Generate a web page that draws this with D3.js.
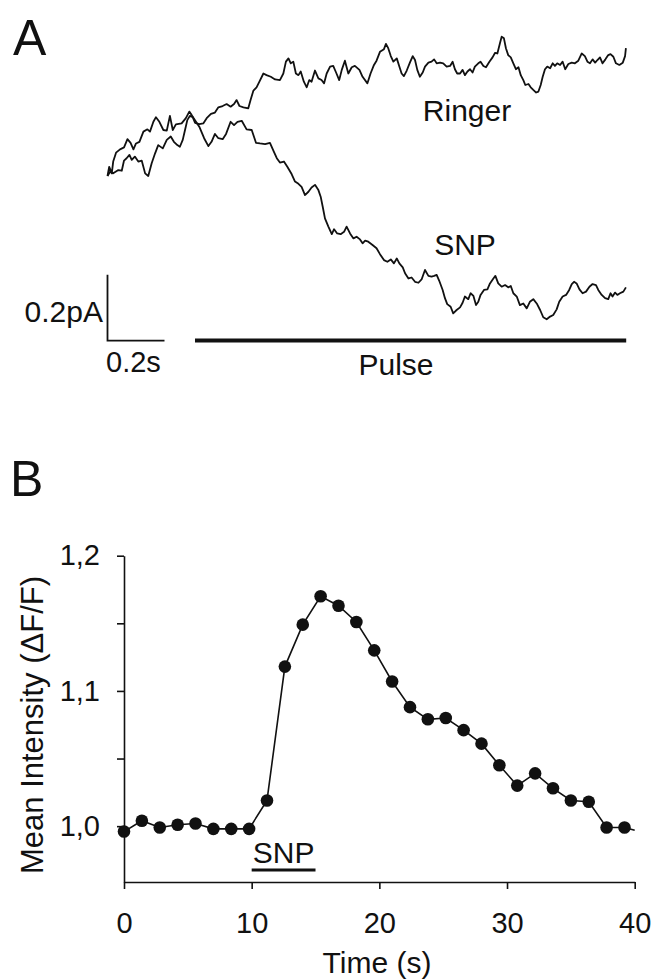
<!DOCTYPE html>
<html>
<head>
<meta charset="utf-8">
<script src="https://cdnjs.cloudflare.com/ajax/libs/d3/7.8.5/d3.min.js"></script>
<style>
  body { margin: 0; background: #fff; }
  svg { display: block; font-family: "Liberation Sans", Arial, sans-serif; }
  .axis path, .axis line { stroke: #111; stroke-width: 1.6; }
  .axis text { font-size: 29px; fill: #111; font-family: "Liberation Sans", Arial, sans-serif; }
</style>
</head>
<body>
<div id="chart"></div>
<script>
// ---- Panel A: current traces (time in s, current in pA, relative to start) ----
var ringerTime = [0.000,0.009,0.020,0.038,0.050,0.058,0.067,0.077,0.085,0.096,0.108,0.120,0.132,0.143,0.155,0.167,0.178,0.194,0.208,0.222,
  0.233,0.245,0.254,0.264,0.272,0.280,0.289,0.299,0.307,0.322,0.336,0.348,0.363,0.377,0.389,0.404,0.418,0.432,0.444,0.453,
  0.463,0.477,0.494,0.502,0.512,0.523,0.533,0.547,0.558,0.573,0.588,0.605,0.617,0.626,0.635,0.643,0.652,0.661,0.670,0.678,
  0.689,0.699,0.708,0.716,0.728,0.740,0.751,0.760,0.769,0.781,0.792,0.802,0.813,0.822,0.833,0.845,0.857,0.868,0.884,0.895,
  0.912,0.923,0.935,0.944,0.956,0.970,0.977,0.985,0.994,1.003,1.015,1.024,1.032,1.040,1.050,1.061,1.071,1.079,1.087,1.096,
  1.106,1.114,1.126,1.137,1.146,1.155,1.167,1.178,1.190,1.202,1.211,1.219,1.227,1.237,1.246,1.254,1.263,1.272,1.281,1.289,
  1.301,1.309,1.319,1.328,1.340,1.351,1.360,1.368,1.377,1.383,1.391,1.398,1.406,1.415,1.424,1.433,1.442,1.450,1.459,1.466,
  1.477,1.485,1.494,1.504,1.512,1.520,1.527,1.535,1.543,1.553,1.562,1.570,1.578,1.588,1.597,1.606,1.617,1.629,1.640,1.652,
  1.664,1.675,1.684,1.693,1.702,1.711,1.719,1.728,1.737,1.747,1.757,1.765,1.775,1.784,1.796,1.808,1.816,1.819];
var ringerCurrent = [-0.003,0.010,0.005,0.015,0.013,0.044,0.051,0.061,0.046,0.056,0.041,0.044,0.005,-0.003,0.036,0.066,0.091,0.081,0.107,0.117,
  0.101,0.091,0.086,0.107,0.137,0.167,0.180,0.176,0.159,0.155,0.157,0.173,0.186,0.190,0.206,0.210,0.216,0.208,0.216,0.228,
  0.210,0.206,0.203,0.228,0.257,0.267,0.284,0.309,0.304,0.299,0.291,0.289,0.309,0.345,0.355,0.340,0.345,0.309,0.304,0.315,
  0.284,0.267,0.289,0.284,0.318,0.294,0.289,0.279,0.309,0.330,0.332,0.312,0.289,0.320,0.348,0.309,0.328,0.332,0.320,0.299,
  0.279,0.309,0.335,0.348,0.375,0.383,0.399,0.386,0.362,0.345,0.355,0.330,0.309,0.301,0.318,0.342,0.362,0.350,0.320,0.299,
  0.312,0.330,0.342,0.345,0.352,0.340,0.342,0.340,0.330,0.332,0.345,0.322,0.309,0.309,0.320,0.304,0.315,0.322,0.312,0.330,
  0.340,0.345,0.332,0.328,0.345,0.358,0.372,0.370,0.401,0.421,0.416,0.386,0.365,0.358,0.340,0.322,0.328,0.304,0.289,0.274,
  0.277,0.267,0.259,0.251,0.254,0.274,0.299,0.322,0.330,0.325,0.340,0.332,0.340,0.335,0.345,0.322,0.338,0.342,0.340,0.348,
  0.370,0.362,0.345,0.340,0.352,0.342,0.350,0.358,0.340,0.352,0.365,0.368,0.360,0.340,0.335,0.342,0.362,0.386];

var snpTime = [0.000,0.006,0.015,0.020,0.030,0.044,0.058,0.070,0.081,0.091,0.100,0.112,0.126,0.140,0.149,0.161,0.170,0.182,0.196,0.208,
  0.219,0.229,0.240,0.260,0.275,0.287,0.295,0.307,0.322,0.339,0.354,0.365,0.377,0.389,0.404,0.416,0.432,0.444,0.456,0.471,
  0.488,0.506,0.521,0.535,0.553,0.570,0.582,0.594,0.605,0.619,0.631,0.646,0.658,0.670,0.681,0.693,0.705,0.716,0.728,0.740,
  0.748,0.755,0.763,0.775,0.787,0.795,0.806,0.818,0.830,0.839,0.851,0.863,0.874,0.886,0.895,0.904,0.915,0.930,0.944,0.956,
  0.970,0.982,0.994,1.005,1.015,1.024,1.036,1.044,1.056,1.067,1.079,1.091,1.102,1.114,1.126,1.137,1.146,1.155,1.164,1.176,
  1.184,1.192,1.204,1.213,1.225,1.237,1.246,1.254,1.266,1.274,1.284,1.293,1.301,1.309,1.321,1.333,1.342,1.354,1.361,1.371,
  1.383,1.395,1.406,1.415,1.424,1.436,1.447,1.459,1.471,1.482,1.494,1.506,1.518,1.529,1.541,1.553,1.564,1.576,1.585,1.597,
  1.609,1.620,1.629,1.637,1.646,1.656,1.667,1.679,1.691,1.702,1.714,1.722,1.734,1.746,1.757,1.765,1.772,1.781,1.789,1.798,
  1.810,1.819];
var snpCurrent = [-0.003,0.025,0.005,0.041,0.068,0.078,0.084,0.109,0.098,0.078,0.096,0.101,0.132,0.139,0.132,0.162,0.176,0.162,0.137,0.135,
  0.180,0.137,0.154,0.157,0.173,0.193,0.183,0.167,0.147,0.112,0.088,0.101,0.125,0.112,0.109,0.125,0.162,0.152,0.162,0.165,
  0.139,0.137,0.098,0.096,0.094,0.098,0.074,0.051,0.038,0.041,0.025,0.003,-0.020,-0.027,-0.036,-0.061,-0.051,-0.038,-0.030,-0.046,
  -0.066,-0.096,-0.132,-0.157,-0.180,-0.165,-0.178,-0.180,-0.173,-0.157,-0.178,-0.193,-0.188,-0.196,-0.208,-0.200,-0.203,-0.213,-0.223,-0.241,
  -0.259,-0.264,-0.257,-0.269,-0.254,-0.269,-0.281,-0.299,-0.315,-0.312,-0.325,-0.328,-0.318,-0.289,-0.307,-0.309,-0.307,-0.304,-0.322,-0.350,
  -0.375,-0.393,-0.401,-0.421,-0.411,-0.403,-0.389,-0.370,-0.378,-0.360,-0.368,-0.396,-0.386,-0.365,-0.350,-0.348,-0.330,-0.315,-0.307,-0.330,
  -0.340,-0.335,-0.342,-0.338,-0.360,-0.370,-0.396,-0.391,-0.406,-0.386,-0.378,-0.391,-0.411,-0.433,-0.439,-0.431,-0.426,-0.409,-0.386,-0.370,
  -0.365,-0.350,-0.332,-0.325,-0.330,-0.348,-0.360,-0.355,-0.340,-0.332,-0.335,-0.350,-0.365,-0.375,-0.378,-0.360,-0.370,-0.358,-0.365,-0.360,
  -0.355,-0.342];

var pulseStart = 0.307, pulseEnd = 1.82;   // s
var scaleBarTime = 0.2, scaleBarCurrent = 0.2;

// ---- Panel B: mean intensity over time ----
var timeB = [0,1.4,2.8,4.2,5.6,7.0,8.4,9.8,11.2,12.6,14.0,15.4,16.8,18.2,19.6,21.0,22.4,23.8,25.2,26.6,28.0,29.4,30.8,32.2,33.6,35.0,36.4,37.8,39.2,40];
var intensityB = [0.996,1.004,0.999,1.001,1.002,0.998,0.998,0.998,1.019,1.118,1.149,1.170,1.163,1.151,1.130,1.107,1.088,1.079,1.080,1.071,1.061,1.045,1.030,1.039,1.028,1.019,1.018,0.999,0.999,0.997];
var snpStart = 10, snpEnd = 15;
var xTickValues = [0, 10, 20, 30, 40];
var yTickValues = [1.0, 1.05, 1.1, 1.15, 1.2];
var yTickLabels = ["1,0", "", "1,1", "", "1,2"];

var W = 653, H = 980;
var svg = d3.select("#chart").append("svg").attr("width", W).attr("height", H);

var txt = function(s, x, y, size, anchor) {
  return svg.append("text").attr("x", x).attr("y", y)
    .attr("font-size", size).attr("text-anchor", anchor || "start")
    .attr("fill", "#111").text(s);
};

// ===== Panel A =====
var xA = d3.scaleLinear().domain([0, 1.82]).range([107.5, 626.2]);
var yA = d3.scaleLinear().domain([-0.5, 0.5]).range([339.25, 10.75]);

var traceLine = d3.line().x(function(d) { return xA(d[0]); }).y(function(d) { return yA(d[1]); });

var traces = [d3.zip(ringerTime, ringerCurrent), d3.zip(snpTime, snpCurrent)];
svg.append("g").selectAll("path").data(traces).enter().append("path")
  .attr("d", traceLine)
  .attr("fill", "none").attr("stroke", "#111").attr("stroke-width", 1.8)
  .attr("stroke-linejoin", "round");

var barBase = -0.504;
// scale bar
svg.append("path")
  .attr("d", "M" + xA(0) + "," + yA(barBase + scaleBarCurrent) + "V" + yA(barBase) + "H" + xA(scaleBarTime))
  .attr("fill", "none").attr("stroke", "#111").attr("stroke-width", 1.8);
// pulse bar
svg.append("line")
  .attr("x1", xA(pulseStart)).attr("x2", xA(pulseEnd))
  .attr("y1", yA(barBase)).attr("y2", yA(barBase))
  .attr("stroke", "#111").attr("stroke-width", 4);

txt("A", 13, 55, 50);
txt("Ringer", 467, 121, 30, "middle");
txt("SNP", 465, 255, 30, "middle");
txt("0.2pA", 103, 322, 30, "end");
txt("0.2s", 106, 372, 29);
txt("Pulse", 396, 375, 30, "middle");

// ===== Panel B =====
txt("B", 10, 496, 50);

var xB = d3.scaleLinear().domain([0, 40]).range([124, 634.7]);
var yB = d3.scaleLinear().domain([0.9587, 1.2]).range([882, 555.7]);

svg.append("g").attr("class", "axis")
  .attr("transform", "translate(0,882)")
  .call(d3.axisBottom(xB).tickValues(xTickValues).tickSize(7).tickSizeOuter(0).tickPadding(23));

svg.append("g").attr("class", "axis")
  .attr("transform", "translate(124,0)")
  .call(d3.axisLeft(yB).tickValues(yTickValues).tickSize(7).tickSizeOuter(0).tickPadding(17)
    .tickFormat(function(d, i) { return yTickLabels[i]; }));

svg.selectAll(".axis .domain").attr("fill", "none");

var lineB = d3.line().x(function(d) { return xB(d[0]); }).y(function(d) { return yB(d[1]); });
var ptsB = d3.zip(timeB, intensityB);

svg.append("path").datum(ptsB).attr("d", lineB)
  .attr("fill", "none").attr("stroke", "#111").attr("stroke-width", 1.6);

// the last sample (t = 40) only continues the line, no marker
svg.append("g").selectAll("circle").data(ptsB.slice(0, -1)).enter().append("circle")
  .attr("cx", function(d) { return xB(d[0]); })
  .attr("cy", function(d) { return yB(d[1]); })
  .attr("r", 6.3).attr("fill", "#111");

// SNP application bar
txt("SNP", (xB(snpStart) + xB(snpEnd)) / 2, 863, 30, "middle");
svg.append("line")
  .attr("x1", xB(snpStart)).attr("x2", xB(snpEnd)).attr("y1", 870).attr("y2", 870)
  .attr("stroke", "#111").attr("stroke-width", 3);

txt("Time (s)", 377, 973, 30, "middle");
txt("Mean Intensity (\u0394F/F)", 0, 0, 31, "middle")
  .attr("transform", "translate(43,725) rotate(-90)");
</script>
</body>
</html>
